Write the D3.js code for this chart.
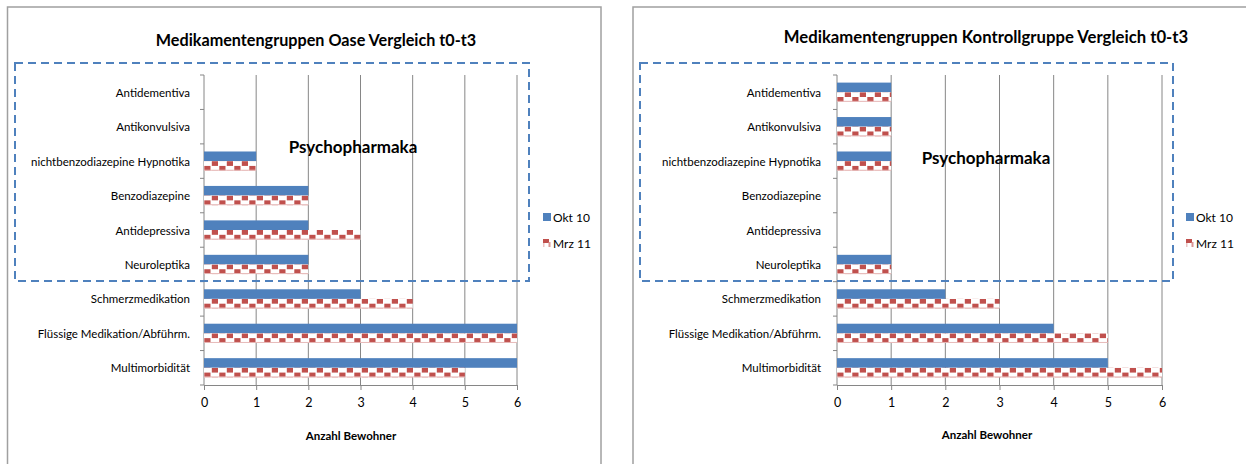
<!DOCTYPE html>
<html>
<head>
<meta charset="utf-8">
<script src="https://cdn.jsdelivr.net/npm/d3@7"></script>
<style>
  html, body { margin: 0; padding: 0; background: #fff; }
  svg { display: block; }
  text { font-family: Lato, "Noto Sans", sans-serif; fill: #000; }
</style>
</head>
<body>
<svg id="chart" width="1246" height="464"></svg>
<script>
// ---- data ----
const categories = [
  "Antidementiva",
  "Antikonvulsiva",
  "nichtbenzodiazepine Hypnotika",
  "Benzodiazepine",
  "Antidepressiva",
  "Neuroleptika",
  "Schmerzmedikation",
  "Flüssige Medikation/Abführm.",
  "Multimorbidität"
];
const seriesNames = ["Okt 10", "Mrz 11"];
const oaseOkt10 = [0, 0, 1, 2, 2, 2, 3, 6, 6];
const oaseMrz11 = [0, 0, 1, 2, 3, 2, 4, 6, 5];
const kontrollOkt10 = [1, 1, 1, 0, 0, 1, 2, 4, 5];
const kontrollMrz11 = [1, 1, 1, 0, 0, 1, 3, 5, 6];
const xTicks = [0, 1, 2, 3, 4, 5, 6];
const titleOase = "Medikamentengruppen Oase Vergleich t0-t3";
const titleKontroll = "Medikamentengruppen Kontrollgruppe Vergleich t0-t3";
const groupLabel = "Psychopharmaka";
const xAxisTitle = "Anzahl Bewohner";

const BLUE = "#4F81BD", RED = "#C0504D", GRID = "#868686";

const svg = d3.select("#chart");
const defs = svg.append("defs");

// checkerboard pattern for second series
const pat = defs.append("pattern")
  .attr("id", "checker")
  .attr("patternUnits", "userSpaceOnUse")
  .attr("width", 15).attr("height", 9.6);
pat.append("rect").attr("width", 15).attr("height", 9.6).attr("fill", "#fff");
pat.append("rect").attr("x", 7.8).attr("y", 0).attr("width", 6.2).attr("height", 4.8).attr("fill", RED);
pat.append("rect").attr("x", 0.3).attr("y", 4.8).attr("width", 6.2).attr("height", 4.8).attr("fill", RED);

function drawChart(cfg) {
  const g = svg.append("g");
  // outer border
  g.append("rect")
    .attr("x", cfg.border[0]).attr("y", cfg.border[1])
    .attr("width", cfg.border[2]).attr("height", cfg.border[3])
    .attr("fill", "none").attr("stroke", "#A0A0A0").attr("stroke-width", 1.5);

  const x = d3.scaleLinear().domain([0, 6]).range([cfg.x0, cfg.x1]);
  const y = d3.scaleBand().domain(categories).range([cfg.yTop, cfg.yBottom]).paddingInner(0).paddingOuter(0);
  const ys = d3.scaleBand().domain(seriesNames).range([0, y.bandwidth()]).paddingInner(0).paddingOuter(0.79);

  // gridlines
  g.selectAll(".grid").data(xTicks.filter(t => t > 0)).join("line")
    .attr("x1", d => x(d)).attr("x2", d => x(d))
    .attr("y1", cfg.yTop).attr("y2", cfg.yBottom)
    .attr("stroke", GRID).attr("stroke-width", 1);

  // x axis
  const xa = g.append("g").attr("transform", `translate(0,${cfg.yBottom})`)
    .call(d3.axisBottom(x).tickValues(xTicks).tickSize(5).tickPadding(8).tickFormat(d3.format("d")));
  xa.select(".domain").attr("stroke", GRID);
  xa.selectAll(".tick line").attr("stroke", GRID);
  xa.selectAll(".tick text").style("font-family", "Lato, sans-serif").style("font-size", "12.5px").attr("fill", "#000");

  // y axis line and boundary ticks
  g.append("line").attr("x1", x(0)).attr("x2", x(0)).attr("y1", cfg.yTop).attr("y2", cfg.yBottom)
    .attr("stroke", GRID).attr("stroke-width", 1);
  const bounds = categories.map(c => y(c)).concat([y(categories[categories.length - 1]) + y.bandwidth()]);
  g.selectAll(".ytick").data(bounds).join("line")
    .attr("x1", x(0) - 4).attr("x2", x(0)).attr("y1", d => d).attr("y2", d => d)
    .attr("stroke", GRID).attr("stroke-width", 1);

  // category labels
  g.selectAll(".cat").data(categories).join("text")
    .attr("x", cfg.labelRight).attr("y", d => y(d) + y.bandwidth() / 2)
    .attr("text-anchor", "end").attr("dominant-baseline", "central")
    .style("font-size", "11.5px").text(d => d);

  // bars
  const a = cfg.s1, b = cfg.s2;
  g.selectAll(".b1").data(categories).join("rect")
    .attr("x", x(0)).attr("y", (d) => y(d) + ys(seriesNames[0]))
    .attr("width", (d, i) => x(a[i]) - x(0)).attr("height", ys.bandwidth())
    .attr("fill", BLUE);
  const rg = g.selectAll(".b2").data(categories).join("g")
    .attr("transform", d => `translate(${x(0)},${y(d) + ys(seriesNames[1])})`);
  rg.append("rect")
    .attr("x", 0).attr("y", 0)
    .attr("width", (d, i) => x(b[i]) - x(0)).attr("height", ys.bandwidth())
    .attr("fill", "url(#checker)");
  rg.append("line").attr("x1", 0).attr("x2", (d, i) => x(b[i]) - x(0))
    .attr("y1", ys.bandwidth() - 0.5).attr("y2", ys.bandwidth() - 0.5)
    .attr("stroke", "#E6B9B8").attr("stroke-width", (d, i) => b[i] > 0 ? 1 : 0);

  // dashed box
  g.append("rect")
    .attr("x", cfg.box[0]).attr("y", cfg.box[1]).attr("width", cfg.box[2] - cfg.box[0]).attr("height", cfg.box[3] - cfg.box[1])
    .attr("fill", "none").attr("stroke", BLUE).attr("stroke-width", 2).attr("stroke-dasharray", "8,5");

  // title
  g.append("text").attr("x", cfg.titleX).attr("y", cfg.titleY)
    .attr("text-anchor", "middle").attr("dominant-baseline", "central")
    .style("font-size", cfg.titleSize).style("font-weight", "bold").text(cfg.title);

  // group label
  g.append("text").attr("x", cfg.groupX).attr("y", cfg.groupY)
    .attr("text-anchor", "middle").attr("dominant-baseline", "central")
    .style("font-size", "17px").style("font-weight", "bold").text(groupLabel);

  // axis title
  g.append("text").attr("x", cfg.axTitleX).attr("y", cfg.axTitleY)
    .attr("text-anchor", "middle").attr("dominant-baseline", "central")
    .style("font-size", "11.5px").style("font-weight", "bold").text(xAxisTitle);

  // legend
  const lg = g.append("g").attr("transform", `translate(${cfg.legX},${cfg.legY})`);
  lg.append("rect").attr("x", 0).attr("y", -4).attr("width", 8).attr("height", 8).attr("fill", BLUE);
  lg.append("text").attr("x", 10).attr("y", 0).attr("dominant-baseline", "central")
    .style("font-size", "12px").text(seriesNames[0]);
  const l2 = lg.append("g").attr("transform", "translate(0,26)");
  l2.append("rect").attr("x", 0).attr("y", -4).attr("width", 6).attr("height", 4).attr("fill", RED);
  l2.append("rect").attr("x", 5.5).attr("y", -1).attr("width", 2).attr("height", 5).attr("fill", "#DA9694");
  l2.append("rect").attr("x", 0).attr("y", 0).attr("width", 1.5).attr("height", 4).attr("fill", "#EBC4C3");
  l2.append("text").attr("x", 10).attr("y", 0).attr("dominant-baseline", "central")
    .style("font-size", "12px").text(seriesNames[1]);
}

drawChart({
  border: [7.5, 7, 593.5, 470],
  x0: 204, x1: 517, yTop: 75, yBottom: 385,
  labelRight: 190,
  s1: oaseOkt10, s2: oaseMrz11,
  box: [15, 63, 529, 281],
  title: titleOase, titleX: 316, titleY: 39, titleSize: "16.2px",
  groupX: 353, groupY: 146,
  axTitleX: 351, axTitleY: 435,
  legX: 543, legY: 217
});

drawChart({
  border: [633, 7, 620, 470],
  x0: 837, x1: 1162, yTop: 75, yBottom: 385,
  labelRight: 821,
  s1: kontrollOkt10, s2: kontrollMrz11,
  box: [640, 63, 1173, 281],
  title: titleKontroll, titleX: 986, titleY: 37, titleSize: "16.7px",
  groupX: 986, groupY: 157,
  axTitleX: 987, axTitleY: 434,
  legX: 1186, legY: 217
});
</script>
</body>
</html>
